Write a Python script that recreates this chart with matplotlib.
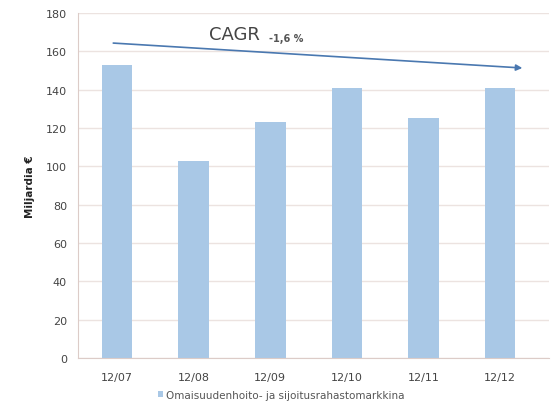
import matplotlib
matplotlib.use("Agg")
import matplotlib.pyplot as plt

categories = ["12/07", "12/08", "12/09", "12/10", "12/11", "12/12"]
values = [153, 103, 123, 141, 125, 141]
yticks = [0, 20, 40, 60, 80, 100, 120, 140, 160, 180]
series_name = "Omaisuudenhoito- ja sijoitusrahastomarkkina"
ylabel = "Miljardia €"
cagr_text = "CAGR"
cagr_sub = "-1,6 %"
arrow_start = (-0.05, 164.3)
arrow_end = (5.29, 151.3)

fig = plt.figure(figsize=(5.51, 4.10), dpi=100)
ax = fig.add_axes([0.1416, 0.1244, 0.855, 0.8415])

x = list(range(len(categories)))
bars = ax.bar(x, values, width=0.4, color="#a9c8e6", zorder=2, label=series_name)

ax.set_xlim(-0.51, 5.64)
ax.set_ylim(0, 180)
ax.set_yticks(yticks)
ax.set_xticks(x)
ax.set_xticklabels(categories)
ax.yaxis.grid(True, color="#ece3e0", linewidth=1.0, zorder=0)
ax.set_axisbelow(True)
for s in ["top", "right"]:
    ax.spines[s].set_visible(False)
ax.spines["left"].set_color("#dcccc8")
ax.spines["bottom"].set_color("#dcccc8")
ax.tick_params(axis="both", length=0, labelsize=8, colors="#444444", pad=8)
ax.tick_params(axis="x", pad=10)

ax.set_ylabel(ylabel, fontsize=7.5, fontweight="bold", color="#222222", labelpad=8)

ax.annotate("", xy=arrow_end, xytext=arrow_start,
            arrowprops=dict(arrowstyle="-|>", color="#4a78b0", lw=1.2,
                            mutation_scale=9, shrinkA=0, shrinkB=0), zorder=3)
ax.text(1.2, 169, cagr_text, fontsize=13, color="#444444", va="center", ha="left")
ax.text(1.98, 166.8, cagr_sub, fontsize=7, color="#555555", va="center", ha="left",
        fontweight="bold")

fig.legend(handles=[bars], labels=[series_name], loc="lower center",
           bbox_to_anchor=(0.51, 0.0), frameon=False, fontsize=7.5,
           handlelength=0.5, handleheight=0.5, handletextpad=0.3,
           labelcolor="#555555")

fig.savefig("out.png", dpi=100)
